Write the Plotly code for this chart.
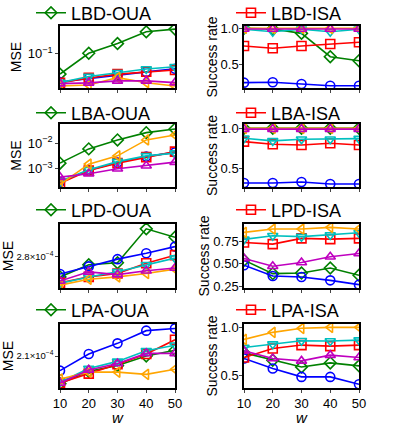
import math
import plotly.graph_objects as go

W = [10, 20, 30, 40, 50]

# series order: green, blue, red, cyan, orange, magenta
series_names = ["OUA", "baseline A", "ISA", "baseline B", "baseline C", "baseline D"]

# MSE, left column
lbd_oua = [
    [0.047, 0.102, 0.146, 0.226, 0.250],
    [0.0351, 0.040, 0.0458, 0.051, 0.0574],
    [0.0339, 0.0408, 0.047, 0.0513, 0.0547],
    [0.0342, 0.043, 0.0493, 0.0568, 0.0619],
    [0.0302, 0.0314, 0.0413, 0.0342, 0.0302],
    [0.033, 0.0339, 0.0365, 0.0365, 0.0342],
]
lba_oua = [
    [1.66e-3, 6.0e-3, 0.0135, 0.026, 0.036],
    [3.0e-4, 8.8e-4, 1.75e-3, 3.0e-3, 4.4e-3],
    [2.7e-4, 8.6e-4, 1.66e-3, 2.85e-3, 4.7e-3],
    [3.2e-4, 9.1e-4, 1.9e-3, 3.2e-3, 4.1e-3],
    [2.4e-4, 1.52e-3, 3.2e-3, 0.0135, 0.021],
    [4.7e-4, 6.4e-4, 1.0e-3, 1.31e-3, 1.82e-3],
]
lpd_oua = [
    [2.42e-4, 2.64e-4, 2.68e-4, 3.42e-4, 3.22e-4],
    [2.47e-4, 2.61e-4, 2.75e-4, 2.87e-4, 3.01e-4],
    [2.32e-4, 2.42e-4, 2.48e-4, 2.67e-4, 2.83e-4],
    [2.31e-4, 2.42e-4, 2.51e-4, 2.64e-4, 2.77e-4],
    [2.28e-4, 2.38e-4, 2.42e-4, 2.48e-4, 2.56e-4],
    [2.35e-4, 2.51e-4, 2.46e-4, 2.53e-4, 2.58e-4],
]
lpa_oua = [
    [1.72e-4, 1.88e-4, 1.96e-4, 2.10e-4, 2.19e-4],
    [1.89e-4, 2.13e-4, 2.30e-4, 2.52e-4, 2.56e-4],
    [1.73e-4, 1.85e-4, 1.98e-4, 2.13e-4, 2.36e-4],
    [1.74e-4, 1.92e-4, 2.02e-4, 2.18e-4, 2.27e-4],
    [1.78e-4, 1.87e-4, 1.87e-4, 1.84e-4, 1.91e-4],
    [1.73e-4, 1.90e-4, 1.99e-4, 2.14e-4, 2.14e-4],
]

# success rate, right column
lbd_isa = [
    [1.0, 0.99, 0.93, 0.606, 0.55],
    [0.245, 0.25, 0.226, 0.203, 0.203],
    [0.754, 0.722, 0.754, 0.782, 0.806],
    [0.986, 0.953, 0.986, 0.953, 0.986],
    [1.0, 1.0, 1.0, 1.0, 1.0],
    [0.99, 0.99, 0.99, 0.99, 0.99],
]
lba_isa = [
    [1.0, 1.0, 1.0, 1.0, 1.0],
    [0.3125, 0.3125, 0.325, 0.30, 0.30],
    [0.833, 0.80, 0.79, 0.8125, 0.79],
    [0.875, 0.842, 0.8625, 0.8625, 0.87],
    [1.0, 1.0, 1.0, 1.0, 1.0],
    [0.99, 0.99, 0.99, 0.99, 0.99],
]
lpd_isa = [
    [0.537, 0.388, 0.395, 0.451, 0.369],
    [0.481, 0.362, 0.35, 0.313, 0.265],
    [0.735, 0.716, 0.78, 0.772, 0.78],
    [0.769, 0.81, 0.799, 0.817, 0.843],
    [0.847, 0.884, 0.884, 0.903, 0.884],
    [0.556, 0.47, 0.511, 0.575, 0.612],
]
lpa_isa = [
    [0.734, 0.657, 0.587, 0.629, 0.598],
    [0.675, 0.57, 0.483, 0.483, 0.406],
    [0.685, 0.78, 0.815, 0.804, 0.815],
    [0.79, 0.825, 0.86, 0.857, 0.867],
    [0.874, 0.948, 0.99, 1.0, 1.0],
    [0.755, 0.675, 0.65, 0.71, 0.685],
]

left_titles = ["LBD-OUA", "LBA-OUA", "LPD-OUA", "LPA-OUA"]
right_titles = ["LBD-ISA", "LBA-ISA", "LPD-ISA", "LPA-ISA"]

left_tickvals = [[0.1], [0.01, 0.001], [2.8e-4], [2.1e-4]]
left_ticktext = [["10<sup>−1</sup>"], ["10<sup>−2</sup>", "10<sup>−3</sup>"],
                 ["2.8×10<sup>−4</sup>"], ["2.1×10<sup>−4</sup>"]]
right_tickvals = [[0.5, 1.0], [0.5, 1.0], [0.25, 0.5, 0.75], [0.5, 1.0]]
right_ticktext = [["0.5", "1.0"], ["0.5", "1.0"], ["0.25", "0.50", "0.75"], ["0.5", "1.0"]]

colors = ["#008000", "#0000ff", "#ff0000", "#00bfbf", "#ffa500", "#bf00bf"]
symbols = ["diamond-open", "circle-open", "square-open", "triangle-down-open",
           "triangle-left-open", "triangle-up-open"]

left_data = [lbd_oua, lba_oua, lpd_oua, lpa_oua]
right_data = [lbd_isa, lba_isa, lpd_isa, lpa_isa]

# log ranges for left, linear for right
left_ranges = [[-1.552, -0.552], [-3.714, -1.247],
               [math.log10(2.8e-4) - 0.098, math.log10(2.8e-4) + 0.102],
               [math.log10(2.1e-4) - 0.1, math.log10(2.1e-4) + 0.1]]
right_ranges = [[0.171, 1.032], [0.2625, 1.054], [0.228, 0.94], [0.367, 1.035]]

H = 426.0
Wpx = 399.0
row_px = [(26, 88), (124, 187), (224, 288), (324, 388)]
col_px = [(60, 175), (244, 359)]
legend_y_px = [13, 113, 210, 310]
legend_x_px = [31, 231]

FONT = "Liberation Sans, Arial, sans-serif"

fig = go.Figure()
layout = dict(
    width=399, height=426,
    # legends sit partly above the top edge; don't let them push the margins
    margin=dict(l=0, r=0, t=0, b=0, autoexpand=False),
    paper_bgcolor="white", plot_bgcolor="white",
    font=dict(family=FONT, size=13, color="black"),
)

for r in range(4):
    for c in range(2):
        k = r * 2 + c + 1
        sfx = "" if k == 1 else str(k)
        data = left_data[r] if c == 0 else right_data[r]
        legend_trace = 0 if c == 0 else 2
        legend_name = left_titles[r] if c == 0 else right_titles[r]
        for s in range(6):
            fig.add_trace(go.Scatter(
                x=W, y=data[s],
                mode="lines+markers",
                name=legend_name if s == legend_trace else series_names[s],
                showlegend=(s == legend_trace),
                legend="legend" + sfx,
                line=dict(color=colors[s], width=1.6),
                marker=dict(symbol=symbols[s], size=9, color=colors[s],
                            line=dict(width=1.6, color=colors[s])),
                xaxis="x" + sfx, yaxis="y" + sfx,
            ))
        y0, y1 = row_px[r]
        x0, x1 = col_px[c]
        bottom = r == 3
        xax = dict(
            domain=[x0 / Wpx, x1 / Wpx], anchor="y" + sfx,
            range=[10, 50], tickvals=W, showticklabels=bottom,
            ticks="outside", ticklen=3, tickwidth=1.2,
            showline=True, mirror=True, linecolor="black", linewidth=1.5,
            showgrid=False, zeroline=False,
            tickfont=dict(size=13),
        )
        if bottom:
            xax["title"] = dict(text="<i>w</i>", font=dict(size=15), standoff=3)
        layout["xaxis" + sfx] = xax
        yax = dict(
            domain=[1 - y1 / H, 1 - y0 / H], anchor="x" + sfx,
            ticks="outside", ticklen=3, tickwidth=1.2,
            showline=True, mirror=True, linecolor="black", linewidth=1.5,
            showgrid=False, zeroline=False,
        )
        if c == 0:
            yax.update(type="log", range=left_ranges[r],
                       tickvals=left_tickvals[r], ticktext=left_ticktext[r],
                       tickfont=dict(size=9.5 if r >= 2 else 13),
                       title=dict(text="MSE", font=dict(size=14),
                                  standoff=0 if r >= 2 else 3))
        else:
            yax.update(range=right_ranges[r],
                       tickvals=right_tickvals[r], ticktext=right_ticktext[r],
                       tickfont=dict(size=13), ticklabelstandoff=-2,
                       title=dict(text="Success rate", font=dict(size=14), standoff=0))
        layout["yaxis" + sfx] = yax
        layout["legend" + sfx] = dict(
            x=legend_x_px[c] / Wpx, xanchor="left",
            y=1 - legend_y_px[r] / H, yanchor="middle",
            font=dict(size=18), bgcolor="rgba(0,0,0,0)",
        )

fig.update_layout(**layout)
# drop the default page margin so the figure sits at the window's corner
fig.write_html("out.html", config={"displayModeBar": False},
               post_script="document.body.style.margin='0';")
